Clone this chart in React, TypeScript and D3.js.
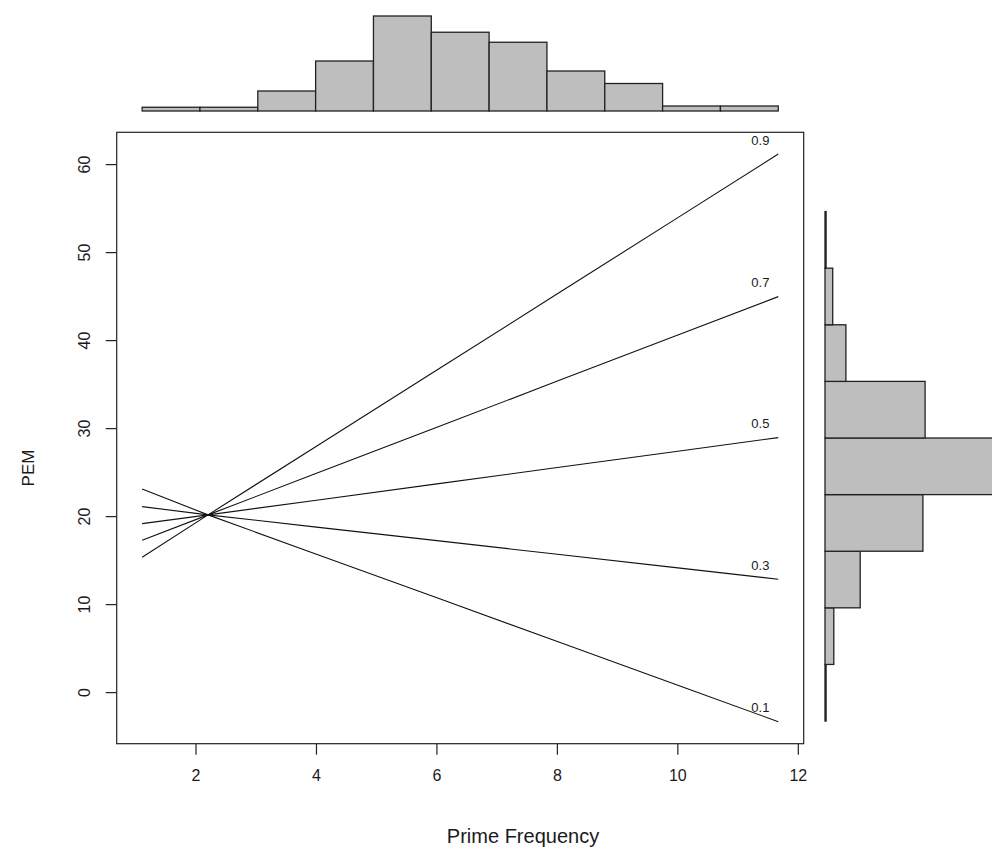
import React from "react";
import * as d3 from "d3";

// ---- data ----
const quantiles = ["0.1", "0.3", "0.5", "0.7", "0.9"];
const lineX = [1.106, 2.2, 4, 6, 8, 10, 11.667];
const q01 = [23.15, 20.2, 15.73, 10.77, 5.8, 0.83, -3.3];
const q03 = [21.14, 20.2, 18.81, 17.27, 15.72, 14.18, 12.89];
const q05 = [19.2, 20.2, 21.87, 23.72, 25.58, 27.43, 28.98];
const q07 = [17.32, 20.2, 24.92, 30.15, 35.4, 40.63, 45.0];
const q09 = [15.39, 20.2, 28.0, 36.66, 45.32, 53.98, 61.2];
const lineSeries = [q01, q03, q05, q07, q09];

// top histogram (Prime Frequency), 11 bins over data range
const xMin = 1.106;
const xMax = 11.667;
const topCounts = [3, 3, 16, 40, 76, 63, 55, 32, 22, 4, 4];

// right histogram (PEM), 10 bins over data range, bottom to top
const yMin = -3.23;
const yMax = 61.1;
const rightCounts = [1, 8, 32, 89, 170, 91, 19, 7, 1, 0];

const xTicks = [2, 4, 6, 8, 10, 12];
const yTicks = [0, 10, 20, 30, 40, 50, 60];

const W = 992;
const H = 855;
const font = "'Liberation Sans', Arial, Helvetica, sans-serif";

export default function App() {
  const left = 116.7;
  const right = 803.7;
  const top = 132.3;
  const bottom = 743.7;

  const xSpan = xMax - xMin;
  const ySpan = yMax - yMin;
  const x = d3
    .scaleLinear()
    .domain([xMin - 0.04 * xSpan, xMax + 0.04 * xSpan])
    .range([left, right]);
  const y = d3
    .scaleLinear()
    .domain([yMin - 0.04 * ySpan, yMax + 0.04 * ySpan])
    .range([bottom, top]);

  const line = d3
    .line<number>()
    .x((_, i) => x(lineX[i]))
    .y((d) => y(d));

  // top histogram
  const topBase = 111;
  const hTop = d3.scaleLinear().domain([0, 76]).range([0, 95]);
  const topBw = xSpan / topCounts.length;

  // right histogram
  const rightBase = 825;
  const wRight = d3.scaleLinear().domain([0, 1]).range([0, 1.1]);
  const rightBw = ySpan / rightCounts.length;

  const stroke = "#222";

  return (
    <svg
      width={W}
      height={H}
      style={{ position: "absolute", left: 0, top: 0, background: "#fff" }}
      fontFamily={font}
    >
      <rect x={0} y={0} width={W} height={H} fill="#fff" />
      {/* top histogram */}
      {topCounts.map((c, i) => {
        const x0 = x(xMin + i * topBw);
        const x1 = x(xMin + (i + 1) * topBw);
        const h = hTop(c);
        return (
          <rect
            key={"t" + i}
            x={x0}
            y={topBase - h}
            width={x1 - x0}
            height={h}
            fill="#bebebe"
            stroke={stroke}
            strokeWidth={1.3}
          />
        );
      })}
      {/* right histogram */}
      {rightCounts.map((c, i) => {
        const y0 = y(yMin + i * rightBw);
        const y1 = y(yMin + (i + 1) * rightBw);
        const w = wRight(c);
        return (
          <rect
            key={"r" + i}
            x={rightBase}
            y={y1}
            width={w}
            height={y0 - y1}
            fill="#bebebe"
            stroke={c === 0 ? "#888" : stroke}
            strokeWidth={1.3}
          />
        );
      })}
      {/* main box */}
      <rect
        x={left}
        y={top}
        width={right - left}
        height={bottom - top}
        fill="none"
        stroke={stroke}
        strokeWidth={1.2}
      />
      {/* x axis */}
      {xTicks.map((t) => (
        <g key={"xt" + t}>
          <line x1={x(t)} x2={x(t)} y1={bottom} y2={bottom + 11} stroke={stroke} strokeWidth={1.2} />
          <text
            x={x(t)}
            y={777}
            textAnchor="middle"
            dominantBaseline="middle"
            fontSize={16}
            fill="#1a1a1a"
          >
            {t}
          </text>
        </g>
      ))}
      {/* y axis */}
      {yTicks.map((t) => (
        <g key={"yt" + t}>
          <line x1={left - 11} x2={left} y1={y(t)} y2={y(t)} stroke={stroke} strokeWidth={1.2} />
          <text
            transform={`translate(86,${y(t)}) rotate(-90)`}
            textAnchor="middle"
            dominantBaseline="middle"
            fontSize={16}
            fill="#1a1a1a"
          >
            {t}
          </text>
        </g>
      ))}
      {/* axis titles */}
      <text x={523} y={838} textAnchor="middle" dominantBaseline="middle" fontSize={20} fill="#1a1a1a">
        Prime Frequency
      </text>
      <text
        transform={`translate(30,468) rotate(-90)`}
        textAnchor="middle"
        dominantBaseline="middle"
        fontSize={17}
        fill="#1a1a1a"
      >
        PEM
      </text>
      {/* quantile lines */}
      {lineSeries.map((s, i) => (
        <g key={"l" + i}>
          <path d={line(s) || ""} fill="none" stroke="#111" strokeWidth={1.1} />
          <text
            x={x(11.37)}
            y={y(s[s.length - 1]) - 13}
            textAnchor="middle"
            dominantBaseline="middle"
            fontSize={13}
            fill="#1a1a1a"
          >
            {quantiles[i]}
          </text>
        </g>
      ))}
    </svg>
  );
}
